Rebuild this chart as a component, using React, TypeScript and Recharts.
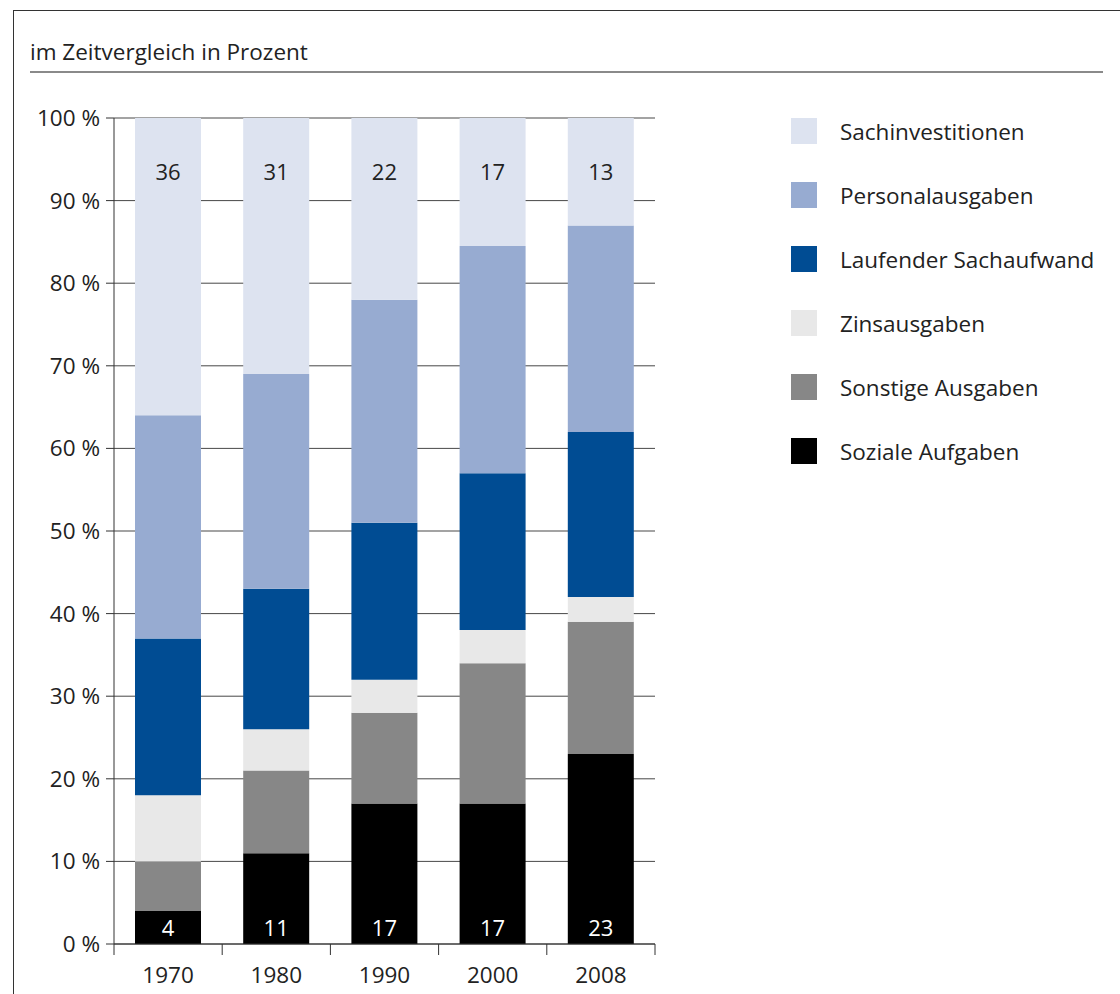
import React from "react";
import { BarChart, Bar, XAxis, YAxis, CartesianGrid, LabelList } from "recharts";

const YEARS = ["1970", "1980", "1990", "2000", "2008"];
const SOZIALE = [4, 11, 17, 17, 23];
const SONSTIGE = [6, 10, 11, 17, 16];
const ZINS = [8, 5, 4, 4, 3];
const LAUFEND = [19, 17, 19, 19, 20];
const PERSONAL = [27, 26, 27, 27.5, 25];
const SACHINV = [36, 31, 22, 15.5, 13];
// printed values (the 2000 segment is drawn shorter than its printed 17)
const SACHINV_LABELS = [36, 31, 22, 17, 13];
const SOZIALE_LABELS = [4, 11, 17, 17, 23];
const Y_TICKS = [0, 10, 20, 30, 40, 50, 60, 70, 80, 90, 100];

const SERIES = [
  { key: "soziale", name: "Soziale Aufgaben", values: SOZIALE, color: "#000000" },
  { key: "sonstige", name: "Sonstige Ausgaben", values: SONSTIGE, color: "#878787" },
  { key: "zins", name: "Zinsausgaben", values: ZINS, color: "#e8e8e8" },
  { key: "laufend", name: "Laufender Sachaufwand", values: LAUFEND, color: "#004c93" },
  { key: "personal", name: "Personalausgaben", values: PERSONAL, color: "#97abd1" },
  { key: "sachinv", name: "Sachinvestitionen", values: SACHINV, color: "#dde3f0" },
];

const data = YEARS.map((year, i) => {
  const row: Record<string, string | number> = { year };
  SERIES.forEach((s) => (row[s.key] = s.values[i]));
  return row;
});

const FONT = "'Open Sans', 'DejaVu Sans', sans-serif";
const INK = "#222";
const LINE = "#333";
const PLOT_LEFT = 114;
const PLOT_RIGHT = 655;
const HALF_BAND = (PLOT_RIGHT - PLOT_LEFT) / YEARS.length / 2;

function YearTick(props: any) {
  const { x, y, payload, index } = props;
  return (
    <g>
      {index === 0 && <line x1={x - HALF_BAND} x2={x - HALF_BAND} y1={y} y2={y + 11} stroke={LINE} />}
      <line x1={x + HALF_BAND} x2={x + HALF_BAND} y1={y} y2={y + 11} stroke={LINE} />
      <text x={x} y={y + 39} textAnchor="middle" fill={INK} fontSize={22.5} fontFamily={FONT}>
        {payload.value}
      </text>
    </g>
  );
}

function TopLabel(props: any) {
  const { x, y, width, index } = props;
  return (
    <text x={x + width / 2} y={y + 62} textAnchor="middle" fill={INK} fontSize={22} fontFamily={FONT}>
      {SACHINV_LABELS[index]}
    </text>
  );
}

function BottomLabel(props: any) {
  const { x, y, width, height, index } = props;
  return (
    <text x={x + width / 2} y={y + height - 8} textAnchor="middle" fill="#fff" fontSize={22} fontFamily={FONT}>
      {SOZIALE_LABELS[index]}
    </text>
  );
}

function LegendBox() {
  const items = [...SERIES].reverse();
  return (
    <div style={{ position: "absolute", left: 791, top: 99, fontFamily: FONT }}>
      {items.map((s) => (
        <div key={s.key} style={{ display: "flex", alignItems: "center", height: 64 }}>
          <div style={{ width: 26, height: 26, background: s.color, marginRight: 23 }} />
          <span style={{ fontSize: 22.5, color: INK }}>{s.name}</span>
        </div>
      ))}
    </div>
  );
}

export default function App() {
  return (
    <div style={{ position: "absolute", left: 0, top: 0, width: 1120, height: 994, background: "#fff", overflow: "hidden" }}>
      <div
        style={{
          position: "absolute",
          left: 13,
          top: 10,
          right: -10,
          bottom: -10,
          borderTop: `1.5px solid ${LINE}`,
          borderLeft: `1.5px solid ${LINE}`,
        }}
      />
      <div style={{ position: "absolute", left: 30, top: 37, fontFamily: FONT, fontSize: 22.5, color: INK, lineHeight: "30px" }}>
        im Zeitvergleich in Prozent
      </div>
      <div style={{ position: "absolute", left: 30, top: 71, width: 1073, height: 2, background: "#8a8a8a" }} />
      <div style={{ position: "absolute", left: 0, top: 0 }}>
        <BarChart
          width={700}
          height={994}
          data={data}
          margin={{ top: 118, right: 700 - PLOT_RIGHT, bottom: 0, left: 14 }}
          barSize={66}
        >
          <CartesianGrid horizontal vertical={false} stroke={LINE} strokeOpacity={0.9} />
          <XAxis
            dataKey="year"
            height={50}
            axisLine={{ stroke: LINE }}
            tickLine={false}
            tickSize={0}
            tickMargin={0}
            tick={<YearTick />}
            interval={0}
          />
          <YAxis
            width={100}
            domain={[0, 100]}
            ticks={Y_TICKS}
            interval={0}
            tickFormatter={(v) => `${v} %`}
            axisLine={{ stroke: LINE }}
            tickLine={{ stroke: LINE }}
            tickSize={8}
            tickMargin={6}
            tick={{ fill: INK, fontSize: 22.5, fontFamily: FONT }}
          />
          {SERIES.map((s) => (
            <Bar key={s.key} dataKey={s.key} name={s.name} stackId="a" fill={s.color} isAnimationActive={false}>
              {s.key === "sachinv" && <LabelList content={<TopLabel />} />}
              {s.key === "soziale" && <LabelList content={<BottomLabel />} />}
            </Bar>
          ))}
        </BarChart>
      </div>
      <LegendBox />
    </div>
  );
}
